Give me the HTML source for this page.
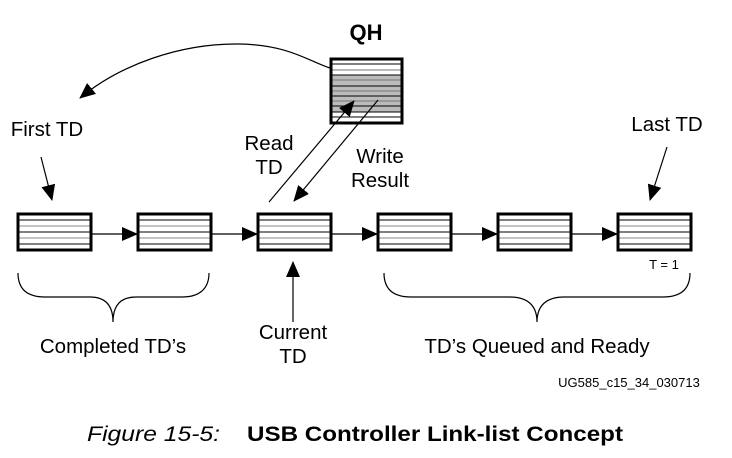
<!DOCTYPE html>
<html><head><meta charset="utf-8"><style>
html,body{margin:0;padding:0;background:#fff;}
svg{display:block;font-family:"Liberation Sans",Arial,sans-serif;}
</style></head><body>
<svg width="732" height="458" viewBox="0 0 732 458" xmlns="http://www.w3.org/2000/svg">
<defs>
<marker id="ah2" markerWidth="16" markerHeight="14" refX="15" refY="7" orient="auto" markerUnits="userSpaceOnUse" viewBox="0 0 16 14">
<path d="M0,0 L16,7 L0,14 z" fill="#000"/></marker>
<g id="td">
<rect x="0" y="0" width="73" height="36" fill="#fff"/>
<line x1="0" y1="6" x2="73" y2="6" stroke="#000" stroke-width="1"/>
<line x1="0" y1="12" x2="73" y2="12" stroke="#888" stroke-width="1"/>
<line x1="0" y1="18" x2="73" y2="18" stroke="#000" stroke-width="1"/>
<line x1="0" y1="24" x2="73" y2="24" stroke="#888" stroke-width="1"/>
<line x1="0" y1="30" x2="73" y2="30" stroke="#000" stroke-width="1"/>
<rect x="0" y="0" width="73" height="36" fill="none" stroke="#000" stroke-width="3"/>
</g>
</defs>

<use href="#td" x="18" y="214"/>
<use href="#td" x="138" y="214"/>
<use href="#td" x="258" y="214"/>
<use href="#td" x="378" y="214"/>
<use href="#td" x="498" y="214"/>
<use href="#td" x="618" y="214"/>

<g stroke="#000" stroke-width="1.2" marker-end="url(#ah2)">
<line x1="91" y1="234" x2="137" y2="234"/>
<line x1="211" y1="234" x2="257" y2="234"/>
<line x1="331" y1="234" x2="377" y2="234"/>
<line x1="451" y1="234" x2="497" y2="234"/>
<line x1="571" y1="234" x2="617" y2="234"/>
</g>

<rect x="331" y="59" width="71" height="64" fill="#fff"/>
<rect x="331" y="75" width="71" height="37" fill="#bbb"/>
<g stroke="#000" stroke-width="1">
<line x1="331" y1="64" x2="402" y2="64"/>
<line x1="331" y1="70" x2="402" y2="70" stroke="#777"/>
<line x1="331" y1="75" x2="402" y2="75"/>
<line x1="331" y1="80" x2="402" y2="80" stroke="#777"/>
<line x1="331" y1="86" x2="402" y2="86"/>
<line x1="331" y1="91" x2="402" y2="91" stroke="#777"/>
<line x1="331" y1="96" x2="402" y2="96"/>
<line x1="331" y1="101" x2="402" y2="101" stroke="#777"/>
<line x1="331" y1="106" x2="402" y2="106"/>
<line x1="331" y1="112" x2="402" y2="112"/>
<line x1="331" y1="117" x2="402" y2="117"/>
</g>
<rect x="331" y="59" width="71" height="64" fill="none" stroke="#000" stroke-width="3"/>
<text x="366" y="40" font-size="22" font-weight="bold" text-anchor="middle">QH</text>

<path d="M330,68 C310,62 290,45 240,44 C180,43 120,65 80,98" fill="none" stroke="#000" stroke-width="1.2" marker-end="url(#ah2)"/>

<line x1="269" y1="202" x2="354" y2="101" stroke="#000" stroke-width="1.2" marker-end="url(#ah2)"/>
<line x1="378" y1="100" x2="294" y2="201" stroke="#000" stroke-width="1.2" marker-end="url(#ah2)"/>

<g font-size="20.5" text-anchor="middle">
<text x="269" y="150">Read</text>
<text x="269" y="174">TD</text>
<text x="380" y="163">Write</text>
<text x="380" y="187">Result</text>
<text x="47" y="136">First TD</text>
<text x="667" y="131">Last TD</text>
<text x="293" y="339">Current</text>
<text x="293" y="363">TD</text>
<text x="113" y="353">Completed TD’s</text>
<text x="537" y="353">TD’s Queued and Ready</text>
</g>

<line x1="41" y1="157" x2="52" y2="200" stroke="#000" stroke-width="1.2" marker-end="url(#ah2)"/>
<line x1="667" y1="147" x2="650" y2="200" stroke="#000" stroke-width="1.2" marker-end="url(#ah2)"/>
<text x="664" y="269" font-size="13" text-anchor="middle">T = 1</text>

<line x1="293" y1="322" x2="293" y2="262" stroke="#000" stroke-width="1.2" marker-end="url(#ah2)"/>

<path d="M18,273 C18,290 28,297 45,297 L90,297 C105,297 113,305 113,322 C113,305 121,297 136,297 L182,297 C198,297 209,290 209,273" fill="none" stroke="#000" stroke-width="1.2"/>
<path d="M384,273 C384,290 394,297 411,297 L510,297 C527,297 537,305 537,322 C537,305 547,297 564,297 L663,297 C680,297 690,290 690,273" fill="none" stroke="#000" stroke-width="1.2"/>

<text x="629" y="387" font-size="13" text-anchor="middle">UG585_c15_34_030713</text>

<text x="87" y="441" font-size="21" font-style="italic" textLength="133" lengthAdjust="spacingAndGlyphs">Figure 15-5:</text>
<text x="247" y="441" font-size="21" font-weight="bold" textLength="376" lengthAdjust="spacingAndGlyphs">USB Controller Link-list Concept</text>
</svg>
</body></html>
